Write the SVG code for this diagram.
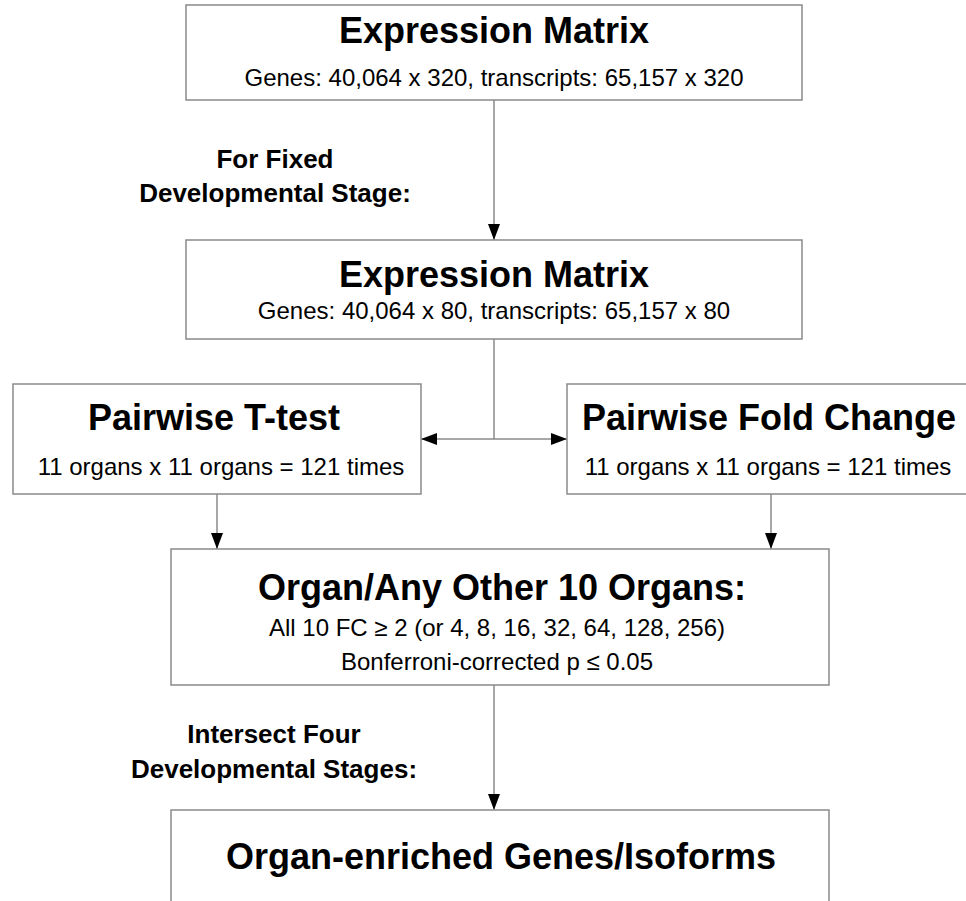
<svg xmlns="http://www.w3.org/2000/svg" width="966" height="901" viewBox="0 0 966 901">
  <style>
    .box { fill: #ffffff; stroke: #8a8a8a; stroke-width: 1.5; }
    .title { font-family: "Liberation Sans", Arial, sans-serif; font-weight: bold; font-size: 36px; fill: #000; text-anchor: middle; }
    .sub { font-family: "Liberation Sans", Arial, sans-serif; font-size: 24px; fill: #000; text-anchor: middle; }
    .label { font-family: "Liberation Sans", Arial, sans-serif; font-weight: bold; font-size: 26px; fill: #000; text-anchor: middle; }
    .conn { fill: none; stroke: #8a8a8a; stroke-width: 1.5; }
  </style>
  <defs>
    <marker id="arrow" markerUnits="userSpaceOnUse" markerWidth="17" markerHeight="13" refX="16" refY="6" orient="auto">
      <path d="M0,0 L16,6 L0,12 Z" fill="#000"/>
    </marker>
  </defs>
  <rect width="966" height="901" fill="#ffffff"/>

  <g id="connectors">
    <line class="conn" x1="494" y1="100" x2="494" y2="240" marker-end="url(#arrow)"/>
    <line class="conn" x1="494" y1="339" x2="494" y2="439"/>
    <line class="conn" x1="494" y1="439" x2="421" y2="439" marker-end="url(#arrow)"/>
    <line class="conn" x1="494" y1="439" x2="567" y2="439" marker-end="url(#arrow)"/>
    <line class="conn" x1="217" y1="494" x2="217" y2="549" marker-end="url(#arrow)"/>
    <line class="conn" x1="771" y1="494" x2="771" y2="549" marker-end="url(#arrow)"/>
    <line class="conn" x1="494" y1="685" x2="494" y2="810" marker-end="url(#arrow)"/>
  </g>

  <g id="matrix-all">
    <rect class="box" x="186" y="5" width="616" height="95"/>
    <text class="title" x="494" y="43">Expression Matrix</text>
    <text class="sub" x="494" y="86">Genes: 40,064 x 320, transcripts: 65,157 x 320</text>
  </g>

  <g id="label-fixed-stage">
    <text class="label" x="275" y="168">For Fixed</text>
    <text class="label" x="275" y="202">Developmental Stage:</text>
  </g>

  <g id="matrix-stage">
    <rect class="box" x="186" y="240" width="616" height="99"/>
    <text class="title" x="494" y="287">Expression Matrix</text>
    <text class="sub" x="494" y="319">Genes: 40,064 x 80, transcripts: 65,157 x 80</text>
  </g>

  <g id="ttest">
    <rect class="box" x="13" y="384" width="408" height="110"/>
    <text class="title" x="214" y="430">Pairwise T-test</text>
    <text class="sub" x="221" y="475">11 organs x 11 organs = 121 times</text>
  </g>

  <g id="fold-change">
    <rect class="box" x="567" y="384" width="408" height="110"/>
    <text class="title" x="769" y="430">Pairwise Fold Change</text>
    <text class="sub" x="768" y="475">11 organs x 11 organs = 121 times</text>
  </g>

  <g id="organ-filter">
    <rect class="box" x="171" y="549" width="658" height="136"/>
    <text class="title" x="502" y="600">Organ/Any Other 10 Organs:</text>
    <text class="sub" x="497" y="636">All 10 FC ≥ 2 (or 4, 8, 16, 32, 64, 128, 256)</text>
    <text class="sub" x="497" y="670">Bonferroni-corrected p ≤ 0.05</text>
  </g>

  <g id="label-intersect">
    <text class="label" x="274" y="743">Intersect Four</text>
    <text class="label" x="274" y="778">Developmental Stages:</text>
  </g>

  <g id="enriched">
    <rect class="box" x="171" y="810" width="658" height="200"/>
    <text class="title" x="501" y="869">Organ-enriched Genes/Isoforms</text>
  </g>
</svg>
